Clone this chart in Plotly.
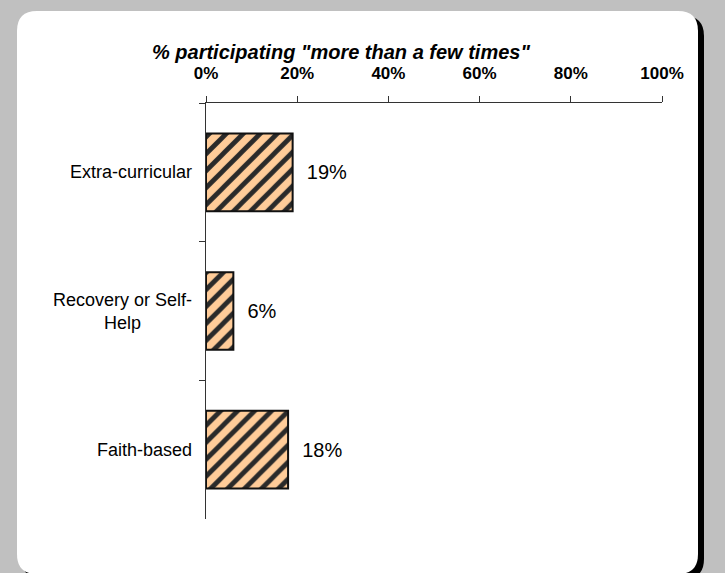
import plotly.graph_objects as go

categories = ["Extra-curricular", "Recovery or Self-<br>Help", "Faith-based"]
values = [19, 6, 18]
x_ticks = [0, 20, 40, 60, 80, 100]
x_tick_labels = ["0%", "20%", "40%", "60%", "80%", "100%"]
title_text = '% participating "more than a few times"'

W, H = 725, 573
L, R, T, B = 206, 662, 103, 519

def px(x):
    return (x - L) / (R - L)

def py(y):
    return 1 - (y - T) / (B - T)

def rrect(x0, y0, x1, y1, r):
    pts = [
        f"M {px(x0 + r)} {py(y0)}",
        f"L {px(x1 - r)} {py(y0)}",
        f"Q {px(x1)} {py(y0)} {px(x1)} {py(y0 + r)}",
        f"L {px(x1)} {py(y1 - r)}",
        f"Q {px(x1)} {py(y1)} {px(x1 - r)} {py(y1)}",
        f"L {px(x0 + r)} {py(y1)}",
        f"Q {px(x0)} {py(y1)} {px(x0)} {py(y1 - r)}",
        f"L {px(x0)} {py(y0 + r)}",
        f"Q {px(x0)} {py(y0)} {px(x0 + r)} {py(y0)}",
        "Z",
    ]
    return " ".join(pts)

fig = go.Figure()
fig.add_trace(go.Bar(
    y=categories,
    x=values,
    orientation="h",
    marker=dict(
        color="#FFCC99",
        line=dict(color="#111111", width=2),
        pattern=dict(shape="/", fgcolor="#2a2a2a", fgopacity=1, bgcolor="#FFCC99",
                     size=12, solidity=0.4),
    ),
    text=["\u00a0\u00a0" + f"{v}%" for v in values],
    textposition="outside",
    textfont=dict(family="Arial", size=20, color="#000000"),
    cliponaxis=False,
    hoverinfo="skip",
))

fig.add_shape(type="path", xref="paper", yref="paper", layer="below",
              path=rrect(22, 16, 704, 579, 20), fillcolor="#000000", line=dict(width=0))
fig.add_shape(type="path", xref="paper", yref="paper", layer="below",
              path=rrect(17, 11, 698, 574, 20), fillcolor="#FFFFFF", line=dict(width=0))

fig.add_annotation(text=f"<b><i>{title_text}</i></b>", xref="paper", yref="paper",
                   x=px(341), y=py(52), xanchor="center", yanchor="middle", showarrow=False,
                   font=dict(family="Arial", size=20, color="#000000"))

for c in categories:
    fig.add_annotation(text=c, xref="paper", yref="y", x=px(194), y=c,
                       xanchor="right", yanchor="middle", align="center", showarrow=False,
                       font=dict(family="Arial", size=18, color="#000000"))

fig.update_layout(
    width=W, height=H,
    margin=dict(l=L, r=W - R, t=T, b=H - B, pad=0, autoexpand=False),
    paper_bgcolor="#C0C0C0",
    plot_bgcolor="rgba(0,0,0,0)",
    showlegend=False,
    bargap=0.44,
    hovermode=False,
    xaxis=dict(
        side="top", range=[0, 100], tickvals=x_ticks, ticktext=x_tick_labels,
        showgrid=False, zeroline=False, showline=True, linecolor="#333333", linewidth=1,
        ticks="outside", ticklen=6, tickcolor="#333333", automargin=False,
        tickfont=dict(family="Arial", size=17, color="#000000", weight="bold"),
        ticklabelstandoff=10,
        fixedrange=True,
    ),
    yaxis=dict(
        range=[2.5, -0.5], type="category", tickson="boundaries",
        showgrid=False, zeroline=False, showline=True, linecolor="#333333", linewidth=1,
        ticks="outside", ticklen=6, tickcolor="#333333", automargin=False,
        showticklabels=False,
        fixedrange=True,
    ),
)

fig.write_html("out.html", config={"displayModeBar": False},
               post_script="document.body.style.margin='0';document.body.style.padding='0';")
